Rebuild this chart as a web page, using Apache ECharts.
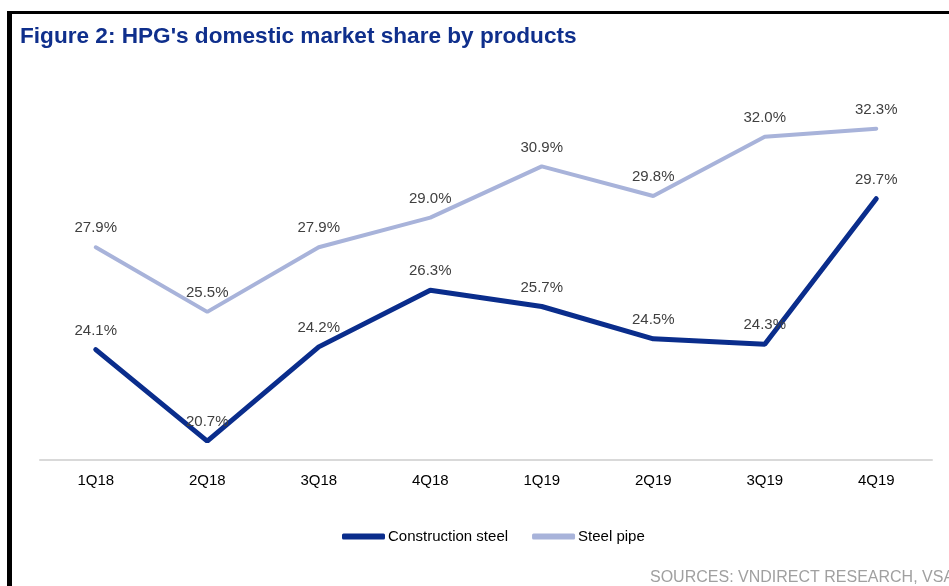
<!DOCTYPE html>
<html>
<head>
<meta charset="utf-8">
<script src="https://cdn.jsdelivr.net/npm/echarts@6/dist/echarts.min.js"></script>
<style>html,body{margin:0;padding:0;background:#fff;}#c{width:949px;height:586px;}</style>
</head>
<body>
<div id="c"></div>
<script>
var categories = ['1Q18','2Q18','3Q18','4Q18','1Q19','2Q19','3Q19','4Q19'];
var constructionSteel = [24.1, 20.7, 24.2, 26.3, 25.7, 24.5, 24.3, 29.7];
var steelPipe = [27.9, 25.5, 27.9, 29.0, 30.9, 29.8, 32.0, 32.3];

var FONT = 'Arial, Liberation Sans, sans-serif';
var chart = echarts.init(document.getElementById('c'));
function lbl() {
  return {
    show: true, position: 'top', distance: 11,
    color: '#404040', fontSize: 15, fontFamily: FONT,
    formatter: function (p) { return p.value.toFixed(1) + '%'; }
  };
}
chart.setOption({
  animation: false,
  backgroundColor: '#fff',
  title: {
    text: "Figure 2: HPG's domestic market share by products",
    left: 15, top: 20,
    textStyle: { color: '#0F2F8C', fontSize: 22.6, fontWeight: 'bold', fontFamily: FONT }
  },
  graphic: [
    { type: 'rect', shape: { x: 7, y: 11, width: 942, height: 3 }, style: { fill: '#000' } },
    { type: 'rect', shape: { x: 7, y: 11, width: 5, height: 575 }, style: { fill: '#000' } },
    { type: 'text', left: 650, top: 570, style: { text: 'SOURCES: VNDIRECT RESEARCH, VSA', fill: '#A0A0A0', fontSize: 16, fontFamily: FONT } }
  ],
  legend: {
    top: 524, left: 337,
    itemWidth: 43, itemHeight: 6, itemGap: 24,
    textStyle: { color: '#000', fontSize: 15, fontFamily: FONT, padding: [0,0,0,-2] },
    data: [
      { name: 'Construction steel', icon: 'roundRect', itemStyle: { color: '#0A2D8C', opacity: 1 } },
      { name: 'Steel pipe', icon: 'roundRect', itemStyle: { color: '#A8B3DA', opacity: 1 } }
    ]
  },
  grid: { left: 40, right: 17, top: 56, bottom: 126 },
  xAxis: {
    type: 'category', data: categories, boundaryGap: true,
    axisLine: { lineStyle: { color: '#D9D9D9', width: 2 } },
    axisTick: { show: false },
    axisLabel: { color: '#000', fontSize: 15, margin: 13, fontFamily: FONT }
  },
  yAxis: { type: 'value', min: 20, max: 35, show: false, splitLine: { show: false } },
  series: [
    { name: 'Construction steel', type: 'line', data: constructionSteel, symbol: 'circle', symbolSize: 1, showSymbol: true,
      lineStyle: { color: '#0A2D8C', width: 5, cap: 'round' }, itemStyle: { color: 'rgba(0,0,0,0)' }, label: lbl(), z: 3 },
    { name: 'Steel pipe', type: 'line', data: steelPipe, symbol: 'circle', symbolSize: 1, showSymbol: true,
      lineStyle: { color: '#A8B3DA', width: 4, cap: 'round' }, itemStyle: { color: 'rgba(0,0,0,0)' }, label: lbl(), z: 2 }
  ]
});
</script>
</body>
</html>
